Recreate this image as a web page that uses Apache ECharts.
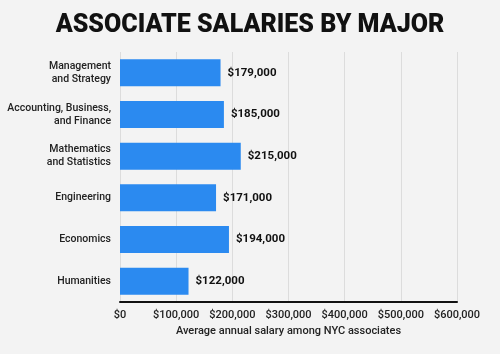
<!DOCTYPE html>
<html>
<head>
<meta charset="utf-8">
<script src="https://cdn.jsdelivr.net/npm/echarts@6/dist/echarts.min.js"></script>
<style>
  html, body { margin: 0; padding: 0; background: #f3f3f3; }
  #chart { width: 500px; height: 354px; }
</style>
</head>
<body>
<div id="chart"></div>
<script>
// categories top to bottom as in the picture
var majors = ['Management\nand Strategy', 'Accounting, Business,\nand Finance', 'Mathematics\nand Statistics', 'Engineering', 'Economics', 'Humanities'];
var salaries = [179000, 185000, 215000, 171000, 194000, 122000];
var xTicks = [0, 100000, 200000, 300000, 400000, 500000, 600000];

var chart = echarts.init(document.getElementById('chart'));

function money(v) {
  return '$' + v.toLocaleString('en-US');
}

var option = {
  backgroundColor: '#f3f3f3',
  title: {
    text: 'ASSOCIATE SALARIES BY MAJOR',
    left: 'center',
    top: 8,
    textStyle: {
      fontFamily: 'Roboto',
      fontSize: 25,
      fontWeight: 900,
      color: '#111'
    }
  },
  grid: {
    left: 120,
    right: 43,
    top: 52,
    bottom: 52
  },
  xAxis: {
    type: 'value',
    min: xTicks[0],
    max: xTicks[xTicks.length - 1],
    interval: 100000,
    name: 'Average annual salary among NYC associates',
    nameLocation: 'middle',
    nameGap: 22,
    nameTextStyle: { fontFamily: 'Roboto', fontSize: 11, fontWeight: 500, color: '#222' },
    axisLine: { show: true, lineStyle: { color: '#111', width: 2 } },
    axisTick: { show: false },
    axisLabel: {
      fontFamily: 'Roboto',
      fontSize: 11,
      fontWeight: 500,
      color: '#222',
      margin: 8,
      formatter: function (v) { return money(v); }
    },
    splitLine: { show: true, lineStyle: { color: '#dcdcdc', width: 1 } }
  },
  yAxis: {
    type: 'category',
    inverse: true,
    data: majors,
    axisLine: { show: false },
    axisTick: { show: false },
    axisLabel: {
      fontFamily: 'Roboto',
      fontSize: 10.5,
      fontWeight: 500,
      color: '#222',
      margin: 9,
      lineHeight: 13
    }
  },
  series: [
    {
      type: 'bar',
      data: salaries,
      barWidth: 27,
      itemStyle: { color: '#2b8af0' },
      label: {
        show: true,
        position: 'right',
        distance: 7,
        fontFamily: 'Roboto',
        fontSize: 11.5,
        fontWeight: 'bold',
        color: '#111',
        formatter: function (p) { return money(p.value); }
      }
    }
  ]
};

chart.setOption(option);
</script>
</body>
</html>
